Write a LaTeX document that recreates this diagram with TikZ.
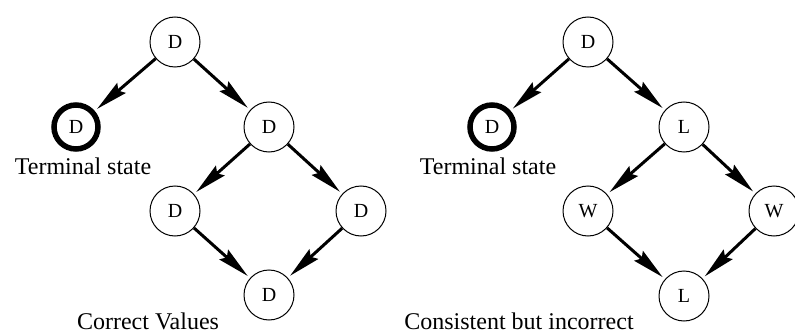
\documentclass[tikz,border=0pt]{standalone}
\usepackage{fontspec}
\setmainfont{Liberation Serif}
\usetikzlibrary{arrows.meta}

\begin{document}
\begin{tikzpicture}[x=1pt,y=-1pt]
\tikzset{
  state/.style={circle, draw, line width=1pt, minimum size=50pt, inner sep=0pt,
    font=\fontsize{20}{20}\selectfont},
  terminal/.style={state, line width=5.5pt, minimum size=44pt},
  move/.style={line width=3pt,
    -{Stealth[length=32pt 0 0,width=13pt 0 0,inset=4pt 0 0]},
    shorten >=3pt},
  caption/.style={font=\fontsize{24}{24}\selectfont, inner sep=0pt}
}
\path[use as bounding box, fill=white] (0,0) rectangle (795,334);

% Left tree: correct values
\node[state]    (a1) at (175,42)  {D};
\node[terminal] (t1) at (76,127)  {D};
\node[state]    (b1) at (269,127) {D};
\node[state]    (c1) at (175,211) {D};
\node[state]    (d1) at (361,211) {D};
\node[state]    (e1) at (269,295) {D};

\draw[move] (a1) -- (t1);
\draw[move] (a1) -- (b1);
\draw[move] (b1) -- (c1);
\draw[move] (b1) -- (d1);
\draw[move] (c1) -- (e1);
\draw[move] (d1) -- (e1);

\node[caption, anchor=base] (lt1) at (83,175) {Terminal state};
\node[caption, anchor=base] (lc1) at (148,329) {Correct Values};

% Right tree: consistent but incorrect values
\node[state]    (a2) at (588,42)  {D};
\node[terminal] (t2) at (492,127) {D};
\node[state]    (b2) at (684,127) {L};
\node[state]    (c2) at (588,211) {W};
\node[state]    (d2) at (774,211) {W};
\node[state]    (e2) at (684,296) {L};

\draw[move] (a2) -- (t2);
\draw[move] (a2) -- (b2);
\draw[move] (b2) -- (c2);
\draw[move] (b2) -- (d2);
\draw[move] (c2) -- (e2);
\draw[move] (d2) -- (e2);

\node[caption, anchor=base] (lt2) at (488,175) {Terminal state};
\node[caption, anchor=base] (lc2) at (519,329) {Consistent but incorrect};
\end{tikzpicture}
\end{document}
